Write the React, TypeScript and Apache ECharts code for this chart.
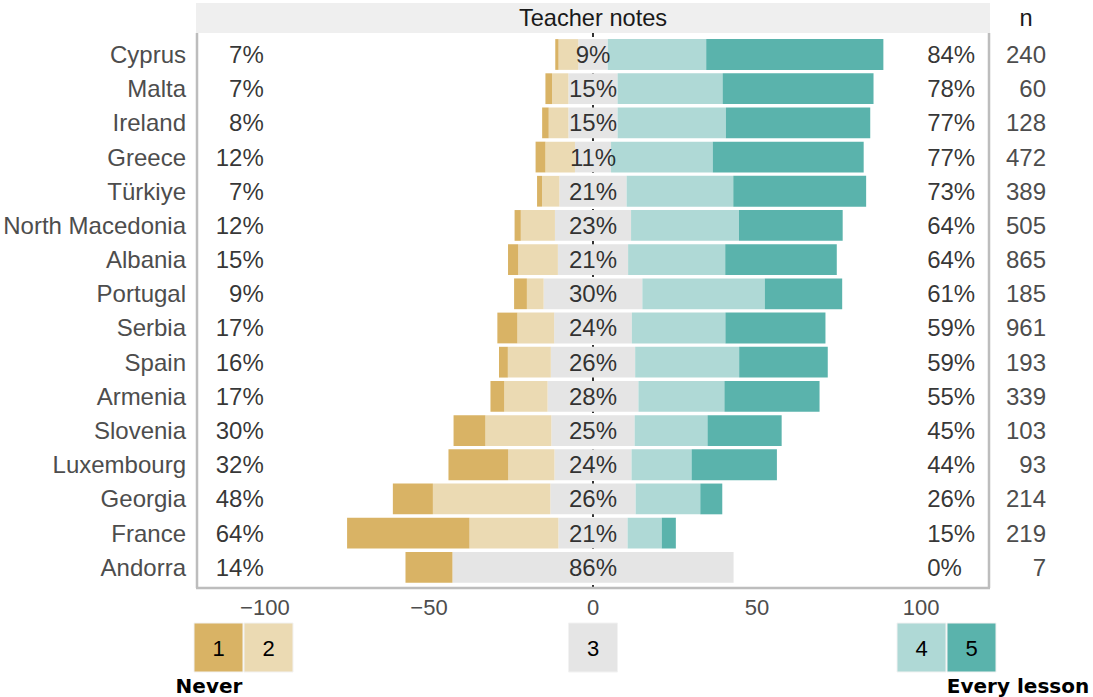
import React, { useEffect, useRef } from "react";
import * as echarts from "echarts";

const countries = ["Cyprus", "Malta", "Ireland", "Greece", "Türkiye", "North Macedonia", "Albania", "Portugal", "Serbia", "Spain", "Armenia", "Slovenia", "Luxembourg", "Georgia", "France", "Andorra"];
const nValues = [240, 60, 128, 472, 389, 505, 865, 185, 961, 193, 339, 103, 93, 214, 219, 7];
const cat1 = [1.0, 2.0, 2.0, 3.0, 1.5, 1.9, 3.1, 3.9, 6.1, 2.7, 4.2, 9.7, 18.2, 12.2, 37.3, 14.3];
const cat2 = [6.0, 5.0, 6.0, 9.0, 5.3, 10.4, 12.1, 5.1, 11.2, 13.1, 13.2, 20.1, 14.1, 35.8, 27.1, 0];
const cat3 = [9.0, 15.0, 15.0, 11.0, 20.5, 23.2, 21.4, 30.1, 23.7, 25.7, 27.7, 25.4, 23.5, 26.0, 21.1, 85.7];
const cat4 = [30.0, 32.0, 33.0, 31.0, 32.5, 32.9, 29.6, 37.3, 28.5, 31.7, 26.2, 22.2, 18.3, 19.7, 10.4, 0];
const cat5 = [54.0, 46.0, 44.0, 46.0, 40.5, 31.6, 34.0, 23.6, 30.5, 27.0, 29.0, 22.6, 26.0, 6.7, 4.3, 0];
const leftLabels = ["7%", "7%", "8%", "12%", "7%", "12%", "15%", "9%", "17%", "16%", "17%", "30%", "32%", "48%", "64%", "14%"];
const midLabels = ["9%", "15%", "15%", "11%", "21%", "23%", "21%", "30%", "24%", "26%", "28%", "25%", "24%", "26%", "21%", "86%"];
const rightLabels = ["84%", "78%", "77%", "77%", "73%", "64%", "64%", "61%", "59%", "59%", "55%", "45%", "44%", "26%", "15%", "0%"];
const xTicks = [-100, -50, 0, 50, 100];
const legendKeys = ["1", "2", "3", "4", "5"];

const COLORS = ["#d9b365", "#ebdab3", "#e5e5e5", "#afd9d6", "#5ab3ac"];
const FONT = "'Liberation Sans', Arial, sans-serif";
const LEFT_X = -100.2;
const RIGHT_X = 101.7;
const TXT = 24;

export default function App() {
  const ref = useRef<HTMLDivElement>(null);
  useEffect(() => {
    const chart = echarts.init(ref.current!, null, { renderer: "svg" });
    const barBase = { type: "bar", stack: "d", barWidth: "90%", z: 2, silent: true };
    const labelSeries = (xv: number, labels: string[], pos: string, yIdx = 0) => ({
      type: "scatter",
      yAxisIndex: yIdx,
      symbolSize: 1,
      z: 6,
      clip: false,
      silent: true,
      itemStyle: { color: "rgba(0,0,0,0)" },
      data: countries.map((_, i) => [xv, i]),
      label: {
        show: true,
        position: pos,
        distance: 0,
        color: "#000",
        fontSize: TXT,
        fontFamily: FONT,
        formatter: (p: any) => labels[p.dataIndex],
      },
    });
    const option: any = {
      animation: false,
      grid: { left: 196, right: 103, top: 37.4, height: 547, containLabel: false },
      xAxis: {
        type: "value",
        min: -121,
        max: 121,
        axisLine: { show: false },
        axisTick: { show: false },
        splitLine: { show: false },
        axisLabel: {
          customValues: xTicks,
          formatter: (v: number) => (v < 0 ? "\u2212" + Math.abs(v) : String(v)),
          color: "#4d4d4d",
          fontSize: 22,
          fontFamily: FONT,
          margin: 12,
        },
      },
      yAxis: [
        {
          type: "category",
          data: countries,
          inverse: true,
          axisLine: { show: false },
          axisTick: { show: false },
          splitLine: { show: false },
          axisLabel: { color: "#4d4d4d", fontSize: TXT, fontFamily: FONT, margin: 10 },
        },
        {
          type: "category",
          data: nValues.map(String),
          inverse: true,
          position: "right",
          axisLine: { show: false },
          axisTick: { show: false },
          splitLine: { show: false },
          axisLabel: { color: "#4d4d4d", fontSize: TXT, fontFamily: FONT, margin: 56, align: "right" },
        },
      ],
      series: [
        { ...barBase, name: "3a", data: cat3.map((v) => -v / 2), itemStyle: { color: COLORS[2] } },
        { ...barBase, name: "2", data: cat2.map((v) => -v), itemStyle: { color: COLORS[1] } },
        { ...barBase, name: "1", data: cat1.map((v) => -v), itemStyle: { color: COLORS[0] } },
        { ...barBase, name: "3b", data: cat3.map((v) => v / 2), itemStyle: { color: COLORS[2] } },
        { ...barBase, name: "4", data: cat4, itemStyle: { color: COLORS[3] } },
        { ...barBase, name: "5", data: cat5, itemStyle: { color: COLORS[4] } },
        labelSeries(LEFT_X, leftLabels, "left"),
        labelSeries(0, midLabels, "inside"),
        labelSeries(RIGHT_X, rightLabels, "right", 1),
      ],
    };
    chart.setOption(option);

    const px = (v: number) => chart.convertToPixel({ xAxisIndex: 0 }, v) as number;
    const x0 = px(0);
    const left = 196;
    const right = 990;
    const panelTop = 33;
    const panelBottom = 588;
    const border = { stroke: "#bdbdbd", lineWidth: 2.5 };
    const boxY = 623;
    const boxH = 49;
    const boxes = [
      { x: 194, w: 49 },
      { x: 244, w: 49 },
      { x: x0 - 24.5, w: 49 },
      { x: 897, w: 49 },
      { x: 947, w: 49 },
    ];
    const graphic: any[] = [
      { type: "rect", z: 0, shape: { x: left, y: 3, width: right - left, height: panelTop - 3 }, style: { fill: "#efefef" } },
      { type: "text", z: 1, x: (left + right) / 2, y: 18, style: { text: "Teacher notes", fill: "#1a1a1a", font: `23.6px ${FONT}`, textAlign: "center", textVerticalAlign: "middle" } },
      { type: "text", z: 1, x: 1026, y: 18, style: { text: "n", fill: "#1a1a1a", font: `23.6px ${FONT}`, textAlign: "center", textVerticalAlign: "middle" } },
      { type: "line", z: 0, shape: { x1: x0, y1: panelTop, x2: x0, y2: panelBottom }, style: { stroke: "#000", lineWidth: 1.6, lineDash: [4, 4] } },
      { type: "line", z: 3, shape: { x1: left + 1, y1: panelTop, x2: left + 1, y2: panelBottom }, style: border },
      { type: "line", z: 3, shape: { x1: right - 1, y1: panelTop, x2: right - 1, y2: panelBottom }, style: border },
      { type: "line", z: 3, shape: { x1: left, y1: panelBottom, x2: right, y2: panelBottom }, style: border },
      { type: "text", z: 1, x: 209, y: 686, style: { text: "Never", fill: "#000", font: `bold 20px 'DejaVu Sans', Verdana, sans-serif`, textAlign: "center", textVerticalAlign: "middle" } },
      { type: "text", z: 1, x: 1018, y: 686, style: { text: "Every lesson", fill: "#000", font: `bold 20px 'DejaVu Sans', Verdana, sans-serif`, textAlign: "center", textVerticalAlign: "middle" } },
    ];
    boxes.forEach((b, i) => {
      graphic.push({ type: "rect", z: 1, shape: { x: b.x, y: boxY, width: b.w, height: boxH }, style: { fill: COLORS[i], stroke: "#f2f2f2", lineWidth: 1 } });
      graphic.push({ type: "text", z: 2, x: b.x + b.w / 2, y: boxY + boxH / 2 + 1, style: { text: legendKeys[i], fill: "#000", font: `22px ${FONT}`, textAlign: "center", textVerticalAlign: "middle" } });
    });
    chart.setOption({ graphic });
    return () => chart.dispose();
  }, []);
  return <div ref={ref} style={{ position: "absolute", left: 0, top: 0, width: 1093, height: 697 }} />;
}
